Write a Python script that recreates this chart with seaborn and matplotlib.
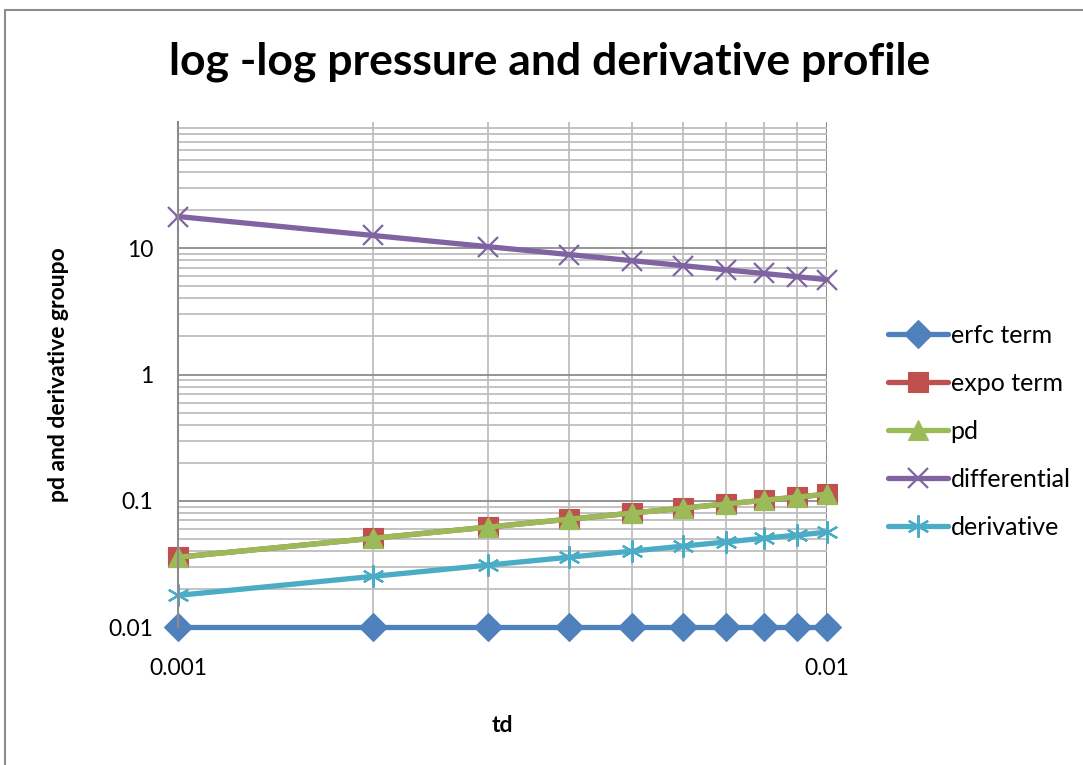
import numpy as np
import pandas as pd
import matplotlib
matplotlib.use("Agg")
import matplotlib.pyplot as plt
import matplotlib.ticker as mticker
from matplotlib.patches import Rectangle
import seaborn as sns

# ---- data ----
td = [0.001, 0.002, 0.003, 0.004, 0.005, 0.006, 0.007, 0.008, 0.009, 0.010]
erfc_term = [0.01, 0.01, 0.01, 0.01, 0.01, 0.01, 0.01, 0.01, 0.01, 0.01]
expo_term = [0.0357, 0.0505, 0.0618, 0.0714, 0.0798, 0.0874, 0.0944, 0.1009, 0.1070, 0.1128]
pd_vals = [0.0357, 0.0505, 0.0618, 0.0714, 0.0798, 0.0874, 0.0944, 0.1009, 0.1070, 0.1128]
differential = [17.84, 12.62, 10.30, 8.92, 7.98, 7.28, 6.74, 6.31, 5.95, 5.64]
derivative = [0.0178, 0.0252, 0.0309, 0.0357, 0.0399, 0.0437, 0.0472, 0.0505, 0.0535, 0.0564]

series_names = ["erfc term", "expo term", "pd", "differential", "derivative"]
series_values = [erfc_term, expo_term, pd_vals, differential, derivative]
colors = ["#4F81BD", "#C0504D", "#9BBB59", "#8064A2", "#4BACC6"]

title = "log -log pressure and derivative profile"
xlabel = "td"
ylabel = "pd and derivative groupo"

sns.set_style("white")
plt.rcParams["font.family"] = ["Lato", "DejaVu Sans"]

fig = plt.figure(figsize=(10.83, 7.65), dpi=100)
ax = fig.add_axes([178 / 1083, 1 - 627 / 765, (827 - 178) / 1083, (627 - 122) / 765])

# outer chart border (only left and top edges fall inside the picture)
fig.patches.append(Rectangle((5 / 1083, -0.5), 2.0, 0.5 + (765 - 10) / 765,
                             transform=fig.transFigure, fill=False,
                             edgecolor="#8C8C8C", linewidth=1.5, zorder=0))

markers = ["D", "s", "^", "x", (6, 2, 0)]
msizes = [14, 14, 15, 15, 16]
for name, vals, col, mk, ms in zip(series_names, series_values, colors, markers, msizes):
    df = pd.DataFrame({"td": td, "v": vals})
    kw = dict(marker=mk, markersize=ms, color=col, linewidth=3.8, label=name, clip_on=False)
    if mk == "x" or isinstance(mk, tuple):
        kw.update(markeredgewidth=1.6, markeredgecolor=col)
    else:
        kw.update(markeredgewidth=0.8, markeredgecolor=col)
    sns.lineplot(data=df, x="td", y="v", ax=ax, **kw)

ax.set_xscale("log")
ax.set_yscale("log")
ax.set_xlim(0.001, 0.01)
ax.set_ylim(0.01, 100)

ax.xaxis.set_major_locator(mticker.FixedLocator([0.001, 0.01]))
ax.xaxis.set_major_formatter(mticker.FixedFormatter(["0.001", "0.01"]))
ax.xaxis.set_minor_locator(mticker.FixedLocator([0.002, 0.003, 0.004, 0.005, 0.006, 0.007, 0.008, 0.009]))
ax.xaxis.set_minor_formatter(mticker.NullFormatter())

ax.yaxis.set_major_locator(mticker.FixedLocator([0.01, 0.1, 1, 10]))
ax.yaxis.set_major_formatter(mticker.FixedFormatter(["0.01", "0.1", "1", "10"]))
ax.yaxis.set_minor_locator(mticker.LogLocator(base=10, subs=np.arange(2, 10), numticks=20))
ax.yaxis.set_minor_formatter(mticker.NullFormatter())

ax.grid(which="major", color="#8C8C8C", linewidth=1.3)
ax.grid(which="minor", color="#BEBEBE", linewidth=1.3)
ax.set_axisbelow(True)
ax.tick_params(which="both", length=0, labelsize=16.5, pad=18, labelcolor="black")
ax.tick_params(axis="x", pad=22)

for s in ["top", "right", "bottom"]:
    ax.spines[s].set_visible(False)
ax.spines["left"].set_color("#8C8C8C")
ax.spines["left"].set_linewidth(1.5)
ax.axvline(0.01, color="#8C8C8C", linewidth=1.5, zorder=0.5)

ax.set_xlabel(xlabel, fontsize=16.5, fontweight="bold", labelpad=26, color="black")
ax.set_ylabel(ylabel, fontsize=16.5, fontweight="bold", labelpad=28, color="black")
fig.text(0.5 * (165 + 935) / 1083, 1 - 62 / 765, title, fontsize=32,
         fontweight="bold", ha="center", va="center", color="black")

leg = ax.legend(loc="upper left", bbox_to_anchor=(888 / 1083, 1 - 324 / 765),
                bbox_transform=fig.transFigure, frameon=False, fontsize=18,
                handlelength=2.4, labelspacing=1.0, handletextpad=0.1,
                borderaxespad=0, borderpad=0)
for t in leg.get_texts():
    t.set_color("black")

fig.savefig("out.png", dpi=100)
